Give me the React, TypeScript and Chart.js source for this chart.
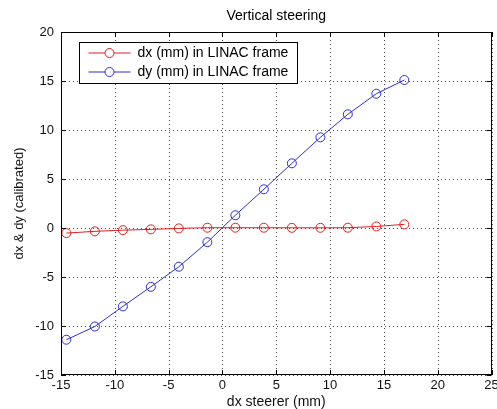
import React, { useEffect, useRef } from 'react';
import { Chart, registerables } from 'chart.js';

Chart.register(...registerables);

// ---- data ----
const steererX = [-14.5, -11.85, -9.25, -6.65, -4.05, -1.4, 1.2, 3.85, 6.45, 9.1, 11.65, 14.3, 16.9];
const dxValues = [-0.52, -0.34, -0.22, -0.14, -0.04, 0.03, 0.03, 0.03, 0.02, 0.02, 0.03, 0.16, 0.37];
const dyValues = [-11.4, -10.05, -8.0, -6.0, -3.95, -1.45, 1.3, 3.95, 6.6, 9.25, 11.6, 13.7, 15.1];

const seriesLabels = ['dx (mm) in LINAC frame', 'dy (mm) in LINAC frame'];
const chartTitle = 'Vertical steering';
const xTitle = 'dx steerer (mm)';
const yTitle = 'dx & dy (calibrated)';
const xRange = [-15, 25];
const yRange = [-15, 20];
const tickStep = 5;

const FONT = "'Liberation Sans', Arial, Helvetica, sans-serif";
const RED = 'rgb(225,30,30)';
const BLUE = 'rgb(45,45,215)';

const matlabPlugin = {
  id: 'matlabFrame',
  beforeDatasetsDraw(chart: any) {
    const { ctx, chartArea } = chart;
    const { left, right, top, bottom } = chartArea;
    const xs = chart.scales.x;
    const ys = chart.scales.y;
    ctx.save();
    ctx.strokeStyle = 'rgba(0,0,0,0.7)';
    ctx.lineWidth = 1;
    ctx.setLineDash([1, 3]);
    xs.ticks.forEach((t: any) => {
      const px = Math.round(xs.getPixelForValue(t.value)) + 0.5;
      ctx.beginPath();
      ctx.moveTo(px, top);
      ctx.lineTo(px, bottom);
      ctx.stroke();
    });
    ys.ticks.forEach((t: any) => {
      const py = Math.round(ys.getPixelForValue(t.value)) + 0.5;
      ctx.beginPath();
      ctx.moveTo(left, py);
      ctx.lineTo(right, py);
      ctx.stroke();
    });
    ctx.restore();
  },
  afterDraw(chart: any) {
    const { ctx, chartArea } = chart;
    const { left, right, top, bottom } = chartArea;
    const xs = chart.scales.x;
    const ys = chart.scales.y;
    ctx.save();
    ctx.setLineDash([]);
    ctx.strokeStyle = '#000';
    ctx.lineWidth = 1;
    // inward ticks
    const tl = 5;
    xs.ticks.forEach((t: any) => {
      const px = Math.round(xs.getPixelForValue(t.value)) + 0.5;
      ctx.beginPath();
      ctx.moveTo(px, bottom);
      ctx.lineTo(px, bottom - tl);
      ctx.moveTo(px, top);
      ctx.lineTo(px, top + tl);
      ctx.stroke();
    });
    ys.ticks.forEach((t: any) => {
      const py = Math.round(ys.getPixelForValue(t.value)) + 0.5;
      ctx.beginPath();
      ctx.moveTo(left, py);
      ctx.lineTo(left + tl, py);
      ctx.moveTo(right, py);
      ctx.lineTo(right - tl, py);
      ctx.stroke();
    });
    // frame
    ctx.strokeRect(Math.round(left) + 0.5, Math.round(top) + 0.5, Math.round(right - left) - 1, Math.round(bottom - top) - 1);

    // title centred on the plot
    ctx.fillStyle = '#000';
    ctx.font = `14px ${FONT}`;
    ctx.textAlign = 'center';
    ctx.textBaseline = 'middle';
    ctx.fillText(chartTitle, (left + right) / 2, 16);

    // legend
    const bx = Math.round(left) + 18.5;
    const by = Math.round(top) + 10.5;
    const bw = 218;
    const bh = 41;
    ctx.fillStyle = '#fff';
    ctx.fillRect(bx, by, bw, bh);
    ctx.strokeStyle = '#000';
    ctx.strokeRect(bx, by, bw, bh);
    chart.data.datasets.forEach((ds: any, i: number) => {
      const y = by + 10.5 + i * 19;
      ctx.strokeStyle = ds.borderColor;
      ctx.lineWidth = 1;
      ctx.beginPath();
      ctx.moveTo(bx + 9, y);
      ctx.lineTo(bx + 51, y);
      ctx.stroke();
      ctx.beginPath();
      ctx.arc(bx + 30, y, 4.5, 0, Math.PI * 2);
      ctx.fillStyle = '#fff';
      ctx.fill();
      ctx.stroke();
      ctx.fillStyle = '#000';
      ctx.font = `14px ${FONT}`;
      ctx.textAlign = 'left';
      ctx.textBaseline = 'middle';
      ctx.fillText(ds.label, bx + 58, y + 0.5);
    });
    ctx.restore();
  },
};

export default function App() {
  const ref = useRef<HTMLCanvasElement>(null);
  useEffect(() => {
    const toPoints = (ys: number[]) => steererX.map((x, i) => ({ x, y: ys[i] }));
    const chart = new Chart(ref.current as HTMLCanvasElement, {
      type: 'line',
      data: {
        datasets: [
          {
            label: seriesLabels[0],
            data: toPoints(dxValues),
            borderColor: RED,
            backgroundColor: 'transparent',
            borderWidth: 1,
            pointRadius: 4.5,
            pointBorderWidth: 1,
            pointBackgroundColor: 'transparent',
            pointBorderColor: RED,
            tension: 0,
            fill: false,
          },
          {
            label: seriesLabels[1],
            data: toPoints(dyValues),
            borderColor: BLUE,
            backgroundColor: 'transparent',
            borderWidth: 1,
            pointRadius: 4.5,
            pointBorderWidth: 1,
            pointBackgroundColor: 'transparent',
            pointBorderColor: BLUE,
            tension: 0,
            fill: false,
          },
        ],
      },
      options: {
        responsive: false,
        animation: false,
        devicePixelRatio: 1,
        layout: { padding: { left: 0, right: 5, top: 32, bottom: 0 } },
        plugins: {
          legend: { display: false },
          title: { display: false },
          tooltip: { enabled: false },
        },
        scales: {
          x: {
            type: 'linear',
            min: xRange[0],
            max: xRange[1],
            grid: { display: false, drawTicks: false },
            border: { display: false },
            ticks: {
              stepSize: tickStep,
              color: '#111',
              font: { family: FONT, size: 13 },
              padding: 3,
              maxRotation: 0,
              autoSkip: false,
            },
            title: {
              display: true,
              text: xTitle,
              color: '#111',
              font: { family: FONT, size: 14, lineHeight: 1 },
              padding: { top: 0, bottom: 0 },
            },
            afterFit: (scale: any) => {
              scale.height = 34;
              scale.paddingLeft = 0;
              scale.paddingRight = 0;
            },
          },
          y: {
            type: 'linear',
            min: yRange[0],
            max: yRange[1],
            grid: { display: false, drawTicks: false },
            border: { display: false },
            ticks: {
              stepSize: tickStep,
              color: '#111',
              font: { family: FONT, size: 13 },
              padding: 7,
              autoSkip: false,
            },
            title: {
              display: true,
              text: yTitle,
              color: '#111',
              font: { family: FONT, size: 13, lineHeight: 1 },
              padding: { top: 13, bottom: 0 },
            },
            afterFit: (scale: any) => {
              scale.width = 61;
              scale.paddingTop = 0;
              scale.paddingBottom = 0;
            },
          },
        },
      },
      plugins: [matlabPlugin],
    } as any);
    return () => chart.destroy();
  }, []);
  return (
    <div style={{ position: 'fixed', left: 0, top: 0, width: 497, height: 409, background: '#fff' }}>
      <canvas ref={ref} width={497} height={409} style={{ display: 'block', width: 497, height: 409 }} />
    </div>
  );
}
